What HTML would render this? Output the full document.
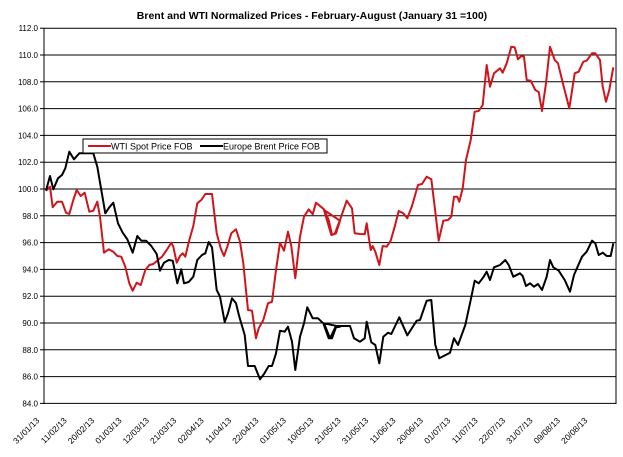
<!DOCTYPE html>
<html><head><meta charset="utf-8"><style>
html,body{margin:0;padding:0;background:#fff;}
svg{display:block;font-family:"Liberation Sans",Arial,sans-serif;}
</style></head><body>
<svg id="s" width="623" height="457" viewBox="0 0 623 457" xmlns="http://www.w3.org/2000/svg">
<rect width="623" height="457" fill="#fff"/>
<text x="312" y="19" text-anchor="middle" font-size="10.5" font-weight="bold" fill="#000">Brent and WTI Normalized Prices  - February-August (January 31 =100)</text>
<g id="grid" stroke="#000" stroke-width="1"></g>
<g id="ylab" font-size="8" fill="#000" text-anchor="end"></g>
<g id="xlab" font-size="8.5" fill="#000" text-anchor="end"></g>
<polyline id="red" fill="none" stroke="#d0141c" stroke-width="2" stroke-linejoin="round"/>
<polyline id="blk" fill="none" stroke="#000" stroke-width="2" stroke-linejoin="round"/>
<rect x="83" y="139" width="244" height="14" fill="#fff" stroke="#000" stroke-width="1"/>
<line x1="88" y1="146" x2="111" y2="146" stroke="#d0141c" stroke-width="2"/>
<text x="111" y="149.5" font-size="9" fill="#000">WTI Spot Price FOB</text>
<line x1="200" y1="146" x2="223" y2="146" stroke="#000" stroke-width="2"/>
<text x="223" y="149.5" font-size="9" fill="#000">Europe Brent Price FOB</text>
<g id="xl" font-size="8.5" fill="#000" text-anchor="end">
</g>
</svg>
<script>
var NS="http://www.w3.org/2000/svg";
function el(t,a,p,txt){var e=document.createElementNS(NS,t);for(var k in a)e.setAttribute(k,a[k]);if(txt)e.textContent=txt;document.getElementById(p).appendChild(e);return e;}
for(var v=84;v<=112;v+=2){var y=55+(110-v)*13.4;
 el('line',{x1:44,y1:y,x2:616,y2:y},'grid');
 el('line',{x1:40,y1:y,x2:44,y2:y},'grid');
 el('text',{x:38,y:y+3},'ylab',v.toFixed(1));}
el('line',{x1:44,y1:28,x2:44,y2:404},'grid');
el('line',{x1:616,y1:28,x2:616,y2:404},'grid');
var labs=["31/01/13","11/02/13","20/02/13","01/03/13","12/03/13","21/03/13","02/04/13","11/04/13","22/04/13","01/05/13","10/05/13","21/05/13","31/05/13","11/06/13","20/06/13","01/07/13","11/07/13","22/07/13","31/07/13","09/08/13","20/08/13"];
</script>
<script>
var r3=[[18,212],[30,200],[38,262],[52,245],[66,245],[78,278],[88,282],[100,240],[110,210],[122,228],[134,218],[148,275],[160,272],[172,245],[180,290],[192,398],[206,388],[220,395],[232,408],[244,410],[256,440],[268,490],[278,512],[290,488],[302,495],[316,450],[328,435],[340,432],[354,420],[366,410],[380,390],[394,368],[400,380],[410,428],[420,408],[428,400],[436,410],[448,360],[460,318],[472,250],[484,240],[496,222],[516,222],[530,340],[542,385],[552,408],[562,380],[574,340],[588,328],[600,365],[610,430],[624,570],[636,572],[648,655],[656,625],[670,600],[684,550],[696,545],[708,450],[720,368],[732,392],[744,335],[754,378],[766,475],[780,350],[792,290],[806,268],[818,283],[828,248],[840,258],[852,268],[866,300],[876,344],[888,340],[900,302]];
var r4=[[12,540],[34,615],[44,612],[60,570],[80,512],[96,535],[104,610],[120,612],[134,613],[140,580],[152,660],[158,648],[166,665],[178,705],[188,648],[200,650],[212,632],[224,590],[236,543],[250,550],[262,565],[276,528],[294,465],[306,462],[320,440],[334,448],[344,530],[356,632],[370,572],[384,570],[394,560],[402,500],[412,500],[418,515],[428,475],[438,390],[452,330],[464,245],[476,243],[488,225],[500,105],[510,170],[522,130],[540,115],[548,128],[560,100],[574,50],[584,52],[594,88],[604,78],[612,80],[620,150],[632,152],[646,180],[656,186],[666,243],[678,160],[690,50],[704,90],[714,100],[730,165],[748,235],[764,130],[776,125],[790,95],[800,92],[816,70],[826,70],[840,90],[848,170],[858,215],[868,180],[880,112]];
var b3=[[18,212],[30,168],[40,208],[54,175],[66,165],[76,145],[88,95],[102,118],[118,100],[160,100],[172,140],[196,280],[208,262],[220,248],[234,310],[248,338],[262,358],[278,398],[292,348],[304,362],[318,362],[334,378],[350,402],[360,452],[372,428],[386,420],[398,422],[412,490],[424,448],[432,490],[446,486],[460,470],[472,420],[486,405],[496,400],[506,366],[516,382],[530,510],[540,530],[554,606],[564,580],[576,535],[588,550],[598,590],[614,645],[624,738],[644,738],[660,778],[672,762],[686,738],[696,738],[708,700],[720,632],[734,635],[744,620],[756,665],[766,750],[780,650],[792,610],[802,562],[818,595],[834,595],[850,610],[866,655],[876,655],[888,622],[900,620]];
var b4=[[12,880],[30,925],[48,888],[90,888],[102,925],[120,935],[134,925],[140,875],[154,937],[166,945],[178,1000],[190,920],[204,908],[214,912],[238,862],[262,916],[290,872],[300,870],[320,812],[334,810],[346,945],[358,985],[390,968],[402,925],[414,945],[436,885],[450,820],[464,752],[476,760],[490,742],[500,725],[510,750],[522,712],[540,705],[556,690],[566,705],[580,740],[600,730],[608,738],[618,768],[630,760],[642,770],[654,762],[666,780],[680,740],[690,690],[700,712],[716,722],[734,750],[750,785],[762,735],[786,680],[800,665],[816,632],[826,640],[836,675],[848,668],[860,678],[872,678],[880,640]];
function pts(a,ox,oy){return a.map(function(p){return (ox+p[0]/3).toFixed(1)+","+(oy+p[1]/3).toFixed(1);}).join(" ");}
document.getElementById('red').setAttribute('points',pts(r3,40,120)+" "+pts(r4,320,30));
document.getElementById('blk').setAttribute('points',pts(b3,40,120)+" "+pts(b4,320,30));
for(var i=0;i<labs.length;i++){var x=40+i*27.4,y=421;
 el('text',{x:x,y:y,transform:'rotate(-45 '+x+' '+y+')'},'xl',labs[i]);}
</script>
</body></html>
